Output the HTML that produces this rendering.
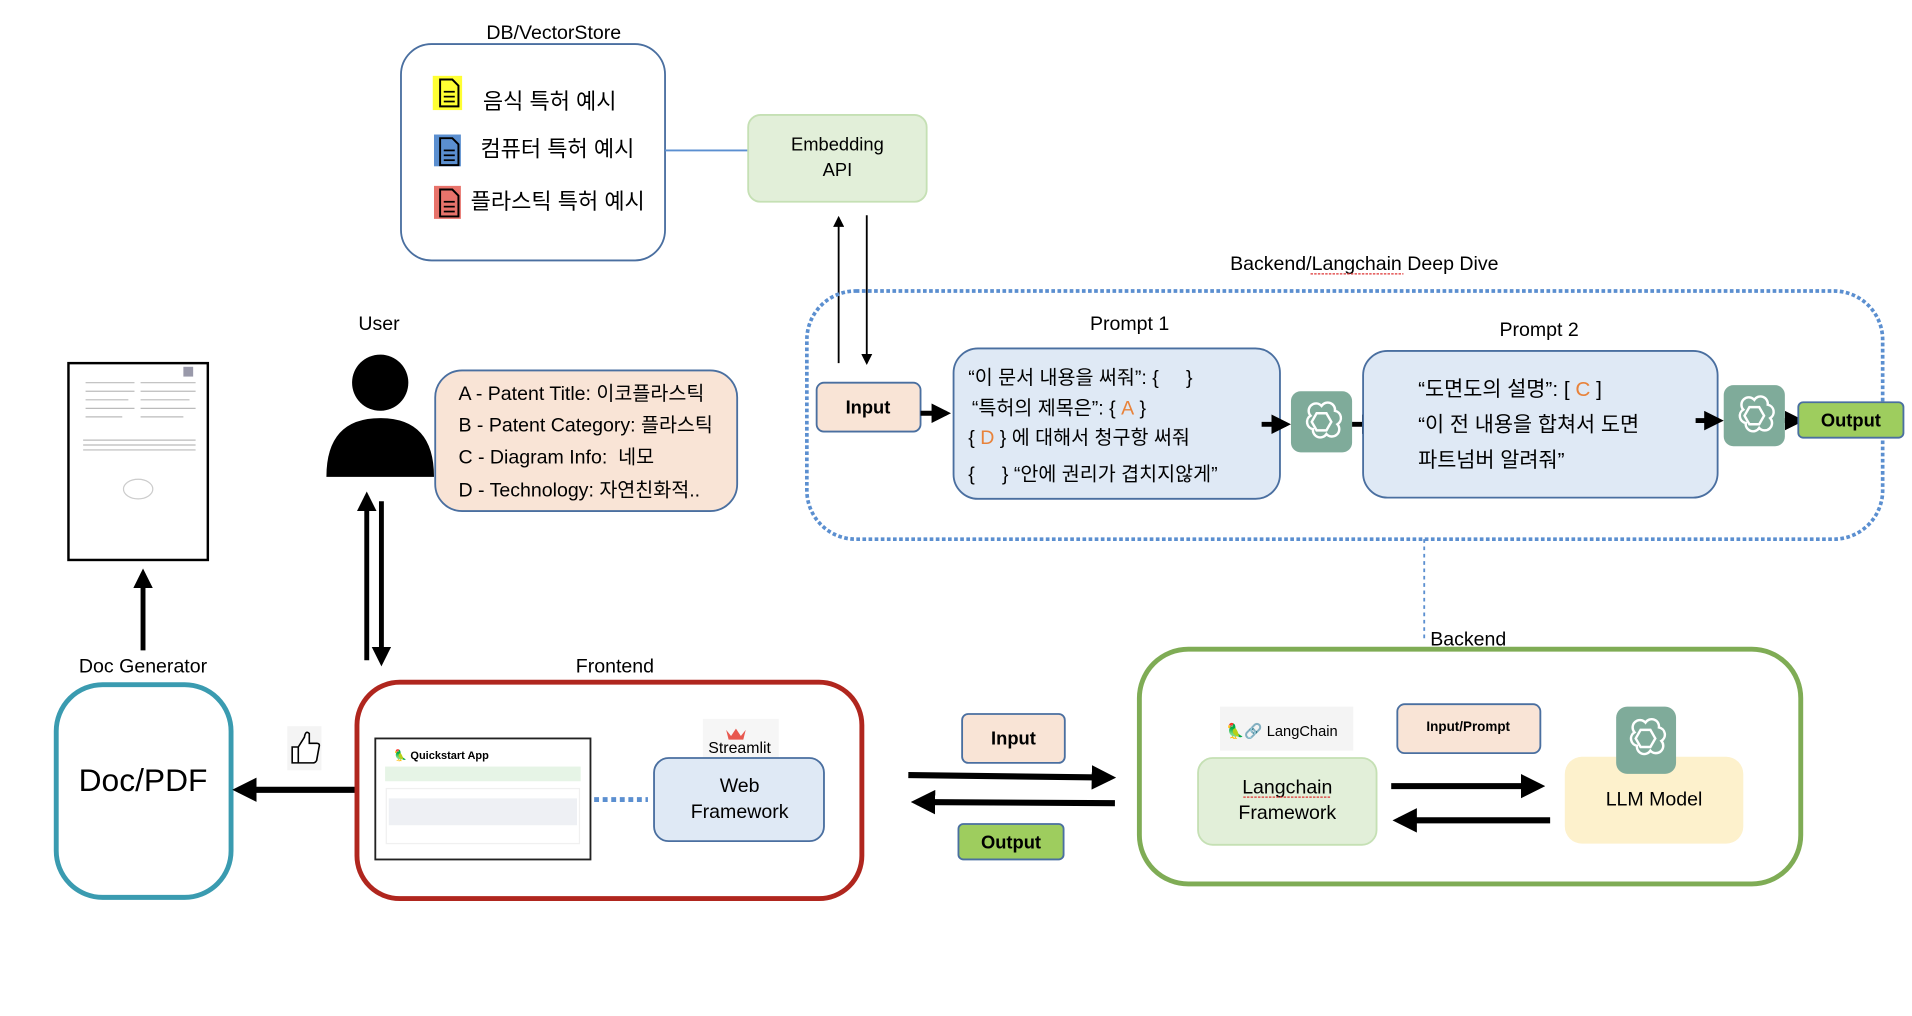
<!DOCTYPE html>
<html><head><meta charset="utf-8"><style>
html,body{margin:0;padding:0;background:#fff;width:1912px;height:1016px;overflow:hidden}
svg text{font-family:"Liberation Sans","Noto Sans CJK KR",sans-serif;fill:#000;white-space:pre}
</style></head><body>
<svg width="1912" height="1016" viewBox="0 0 1564 831" xmlns="http://www.w3.org/2000/svg">
<defs>
<marker id="ah" markerWidth="6" markerHeight="6" refX="5" refY="3" orient="auto" markerUnits="strokeWidth"><path d="M0,0 L6,3 L0,6 z" fill="#000"/></marker>
<marker id="ah2" markerWidth="4" markerHeight="4" refX="3" refY="2" orient="auto" markerUnits="strokeWidth"><path d="M0,0 L4,2 L0,4 z" fill="#000"/></marker>
<g id="gpt"><path d="M0,-13 a6,6 0 0 1 11,4 a6,6 0 0 1 2,11 a6,6 0 0 1 -9,8 a6,6 0 0 1 -11,-4 a6,6 0 0 1 -2,-11 a6,6 0 0 1 9,-8z M-4,-7 l8,0 l4,7 l-4,7 l-8,0 l-4,-7z" fill="none" stroke="#fff" stroke-width="2"/></g>
<g id="doc"><path d="M4,3 h10 l5,5 v17 h-15z" fill="none" stroke="#000" stroke-width="1.6"/><line x1="7" y1="13" x2="16" y2="13" stroke="#000" stroke-width="1.4"/><line x1="7" y1="17" x2="16" y2="17" stroke="#000" stroke-width="1.4"/><line x1="7" y1="21" x2="16" y2="21" stroke="#000" stroke-width="1.4"/></g>
</defs>

<!-- DB/VectorStore -->
<text x="453" y="32" font-size="16" text-anchor="middle">DB/VectorStore</text>
<rect x="328" y="36" width="216" height="177" rx="25" fill="#fff" stroke="#4a6fa0" stroke-width="1.5"/>
<rect x="354" y="62" width="24" height="28" fill="#ffff33"/><use href="#doc" x="356" y="62"/>
<rect x="355" y="110" width="22" height="26" fill="#5b8fd0"/><use href="#doc" x="356" y="110"/>
<rect x="355" y="152" width="22" height="27" fill="#e8736b"/><use href="#doc" x="356" y="152"/>
<text x="395" y="89" font-size="18">음식 특허 예시</text>
<text x="393" y="128" font-size="18">컴퓨터 특허 예시</text>
<text x="385" y="171" font-size="18">플라스틱 특허 예시</text>
<line x1="544" y1="123" x2="612" y2="123" stroke="#5b8fd0" stroke-width="1.5"/>
<rect x="612" y="94" width="146" height="71" rx="10" fill="#e2efd9" stroke="#c5e0b4" stroke-width="1.5"/>
<text x="685" y="123" font-size="15" text-anchor="middle">Embedding</text>
<text x="685" y="144" font-size="15" text-anchor="middle">API</text>
<line x1="686" y1="297" x2="686" y2="178" stroke="#000" stroke-width="1.5" marker-end="url(#ah)"/>
<line x1="709" y1="176" x2="709" y2="297" stroke="#000" stroke-width="1.5" marker-end="url(#ah)"/>

<!-- Deep dive -->
<text x="1116" y="221" font-size="16" text-anchor="middle">Backend/Langchain Deep Dive</text>
<line x1="1072" y1="224" x2="1148" y2="224" stroke="#d33" stroke-width="1" stroke-dasharray="2,1"/>
<rect x="660" y="238" width="880" height="203" rx="40" fill="none" stroke="#5b8fd0" stroke-width="3" stroke-dasharray="3,2"/>
<rect x="668" y="313" width="85" height="40" rx="6" fill="#f9e4d6" stroke="#4a6fa0" stroke-width="1.5"/>
<text x="710" y="338" font-size="15" font-weight="bold" text-anchor="middle">Input</text>
<line x1="753" y1="338" x2="774" y2="338" stroke="#000" stroke-width="4" marker-end="url(#ah2)"/>
<text x="924" y="270" font-size="16" text-anchor="middle">Prompt 1</text>
<rect x="780" y="285" width="267" height="123" rx="20" fill="#dfe9f5" stroke="#4a6fa0" stroke-width="1.5"/>
<text x="792" y="314" font-size="16">“이 문서 내용을 써줘”: {&#160;&#160;&#160;&#160;&#160;}</text>
<text x="795" y="339" font-size="16">“특허의 제목은”: { <tspan fill="#e8823a">A</tspan> }</text>
<text x="792" y="363" font-size="16">{ <tspan fill="#e8823a">D</tspan> } 에 대해서 청구항 써줘</text>
<text x="792" y="393" font-size="16">{&#160;&#160;&#160;&#160;&#160;} “안에 권리가 겹치지않게”</text>
<line x1="1032" y1="347" x2="1052" y2="347" stroke="#000" stroke-width="4" marker-end="url(#ah2)"/>
<rect x="1056" y="320" width="50" height="50" rx="8" fill="#7fab9a"/><use href="#gpt" x="1081" y="345"/>
<line x1="1106" y1="347" x2="1126" y2="347" stroke="#000" stroke-width="4" marker-end="url(#ah2)"/>
<text x="1259" y="275" font-size="16" text-anchor="middle">Prompt 2</text>
<rect x="1115" y="287" width="290" height="120" rx="20" fill="#dfe9f5" stroke="#4a6fa0" stroke-width="1.5"/>
<text x="1160" y="324" font-size="17">“도면도의 설명”: [ <tspan fill="#e8823a">C</tspan> ]</text>
<text x="1160" y="353" font-size="17">“이 전 내용을 합쳐서 도면</text>
<text x="1160" y="382" font-size="17">파트넘버 알려줘”</text>
<line x1="1387" y1="344" x2="1406" y2="344" stroke="#000" stroke-width="4" marker-end="url(#ah2)"/>
<rect x="1410" y="315" width="50" height="50" rx="8" fill="#7fab9a"/><use href="#gpt" x="1435" y="340"/>
<line x1="1460" y1="344" x2="1472" y2="344" stroke="#000" stroke-width="4" marker-end="url(#ah2)"/>
<rect x="1471" y="329" width="86" height="29" rx="4" fill="#9ecd5e" stroke="#4a6fa0" stroke-width="1.5"/>
<text x="1514" y="349" font-size="15" font-weight="bold" text-anchor="middle">Output</text>
<line x1="1165" y1="441" x2="1165" y2="522" stroke="#5b8fd0" stroke-width="1.5" stroke-dasharray="3,3"/>

<!-- User -->
<text x="310" y="270" font-size="16" text-anchor="middle">User</text>
<ellipse cx="311" cy="313" rx="23" ry="23" fill="#000"/>
<path d="M267,390 Q267,342 311,342 Q355,342 355,390 Z" fill="#000"/>
<rect x="356" y="303" width="247" height="115" rx="22" fill="#f9e4d6" stroke="#4a6fa0" stroke-width="1.5"/>
<text x="375" y="327" font-size="16">A - Patent Title: 이코플라스틱</text>
<text x="375" y="353" font-size="16">B - Patent Category: 플라스틱</text>
<text x="375" y="379" font-size="16">C - Diagram Info:  네모</text>
<text x="375" y="406" font-size="16">D - Technology: 자연친화적..</text>
<line x1="300" y1="540" x2="300" y2="406" stroke="#000" stroke-width="4" marker-end="url(#ah2)"/>
<line x1="312" y1="410" x2="312" y2="541" stroke="#000" stroke-width="4" marker-end="url(#ah2)"/>

<!-- Doc thumbnail -->
<rect x="56" y="297" width="114" height="161" fill="#fff" stroke="#000" stroke-width="2"/>
<g stroke="#bbb" stroke-width="1">
<line x1="70" y1="313" x2="110" y2="313"/><line x1="115" y1="313" x2="160" y2="313"/>
<line x1="70" y1="320" x2="110" y2="320"/><line x1="115" y1="320" x2="160" y2="320"/>
<line x1="70" y1="327" x2="105" y2="327"/><line x1="115" y1="327" x2="155" y2="327"/>
<line x1="70" y1="334" x2="110" y2="334"/><line x1="115" y1="334" x2="160" y2="334"/>
<line x1="70" y1="341" x2="100" y2="341"/><line x1="115" y1="341" x2="150" y2="341"/>
<line x1="68" y1="360" x2="160" y2="360"/><line x1="68" y1="364" x2="160" y2="364"/><line x1="68" y1="368" x2="160" y2="368"/>
</g>
<ellipse cx="113" cy="400" rx="12" ry="8" fill="none" stroke="#ccc"/>
<rect x="150" y="300" width="8" height="8" fill="#99a"/>
<line x1="117" y1="532" x2="117" y2="469" stroke="#000" stroke-width="4" marker-end="url(#ah2)"/>

<!-- Doc generator -->
<text x="117" y="550" font-size="16" text-anchor="middle">Doc Generator</text>
<rect x="46" y="560" width="143" height="174" rx="38" fill="#fff" stroke="#3a9bb0" stroke-width="4"/>
<text x="117" y="647" font-size="26" text-anchor="middle">Doc/PDF</text>
<rect x="235" y="594" width="28" height="36" fill="#f4f4f4"/>
<path d="M239,611 h5 v13 h-5z M244,611 l5,-8 q1,-6 4,-3 v8 h6 q3,0 2,3 l-2,11 q-1,2 -3,2 h-12z" fill="#fff" stroke="#000" stroke-width="1.3"/>
<line x1="296" y1="646" x2="195" y2="646" stroke="#000" stroke-width="5" marker-end="url(#ah2)"/>

<!-- Frontend -->
<text x="503" y="550" font-size="16" text-anchor="middle">Frontend</text>
<rect x="292" y="558" width="413" height="177" rx="35" fill="#fff" stroke="#b0261e" stroke-width="4"/>
<rect x="307" y="604" width="176" height="99" fill="#fff" stroke="#222" stroke-width="1.5"/>
<text x="322" y="621" font-size="9" font-weight="bold" fill="#333">🦜 Quickstart App</text>
<rect x="315" y="627" width="160" height="12" fill="#e6f4e6"/>
<rect x="316" y="645" width="158" height="45" fill="#fff" stroke="#f0f0f0"/>
<rect x="318" y="653" width="154" height="22" fill="#eef0f4"/>
<line x1="486" y1="654" x2="530" y2="654" stroke="#5b8fd0" stroke-width="4" stroke-dasharray="4,3"/>
<rect x="575" y="588" width="62" height="32" fill="#f6f6f6"/>
<path d="M594,597 l4,5 l4,-6 l4,6 l4,-5 l-2,8 h-12z" fill="#e8584f"/>
<text x="605" y="616" font-size="13" text-anchor="middle" fill="#333">Streamlit</text>
<rect x="535" y="620" width="139" height="68" rx="12" fill="#dfe9f5" stroke="#4a6fa0" stroke-width="1.5"/>
<text x="605" y="648" font-size="16" text-anchor="middle">Web</text>
<text x="605" y="669" font-size="16" text-anchor="middle">Framework</text>

<!-- Middle -->
<rect x="787" y="584" width="84" height="40" rx="5" fill="#f9e4d6" stroke="#4a6fa0" stroke-width="1.5"/>
<text x="829" y="609" font-size="15" font-weight="bold" text-anchor="middle">Input</text>
<line x1="743" y1="634" x2="908" y2="636" stroke="#000" stroke-width="5" marker-end="url(#ah2)"/>
<line x1="912" y1="657" x2="750" y2="656" stroke="#000" stroke-width="5" marker-end="url(#ah2)"/>
<rect x="784" y="674" width="86" height="29" rx="4" fill="#9ecd5e" stroke="#4a6fa0" stroke-width="1.5"/>
<text x="827" y="694" font-size="15" font-weight="bold" text-anchor="middle">Output</text>

<!-- Backend -->
<text x="1201" y="528" font-size="16" text-anchor="middle">Backend</text>
<rect x="932" y="531" width="541" height="192" rx="40" fill="#fff" stroke="#7fac55" stroke-width="4"/>
<rect x="998" y="578" width="109" height="36" fill="#f4f4f4"/>
<text x="1003" y="602" font-size="12" fill="#333">🦜🔗 LangChain</text>
<rect x="980" y="620" width="146" height="71" rx="12" fill="#e2efd9" stroke="#c5e0b4" stroke-width="1.5"/>
<text x="1053" y="649" font-size="16" text-anchor="middle">Langchain</text>
<line x1="1017" y1="652" x2="1089" y2="652" stroke="#d33" stroke-width="1" stroke-dasharray="2,1"/>
<text x="1053" y="670" font-size="16" text-anchor="middle">Framework</text>
<rect x="1143" y="576" width="117" height="40" rx="6" fill="#f9e4d6" stroke="#4a6fa0" stroke-width="1.5"/>
<text x="1201" y="598" font-size="11" font-weight="bold" text-anchor="middle">Input/Prompt</text>
<line x1="1138" y1="643" x2="1259" y2="643" stroke="#000" stroke-width="5" marker-end="url(#ah2)"/>
<line x1="1268" y1="671" x2="1144" y2="671" stroke="#000" stroke-width="5" marker-end="url(#ah2)"/>
<rect x="1280" y="619" width="146" height="71" rx="14" fill="#fdf1cc"/>
<rect x="1322" y="578" width="49" height="55" rx="9" fill="#7fab9a"/><use href="#gpt" x="1346" y="604"/>
<text x="1353" y="659" font-size="16" text-anchor="middle">LLM Model</text>
</svg>
</body></html>
